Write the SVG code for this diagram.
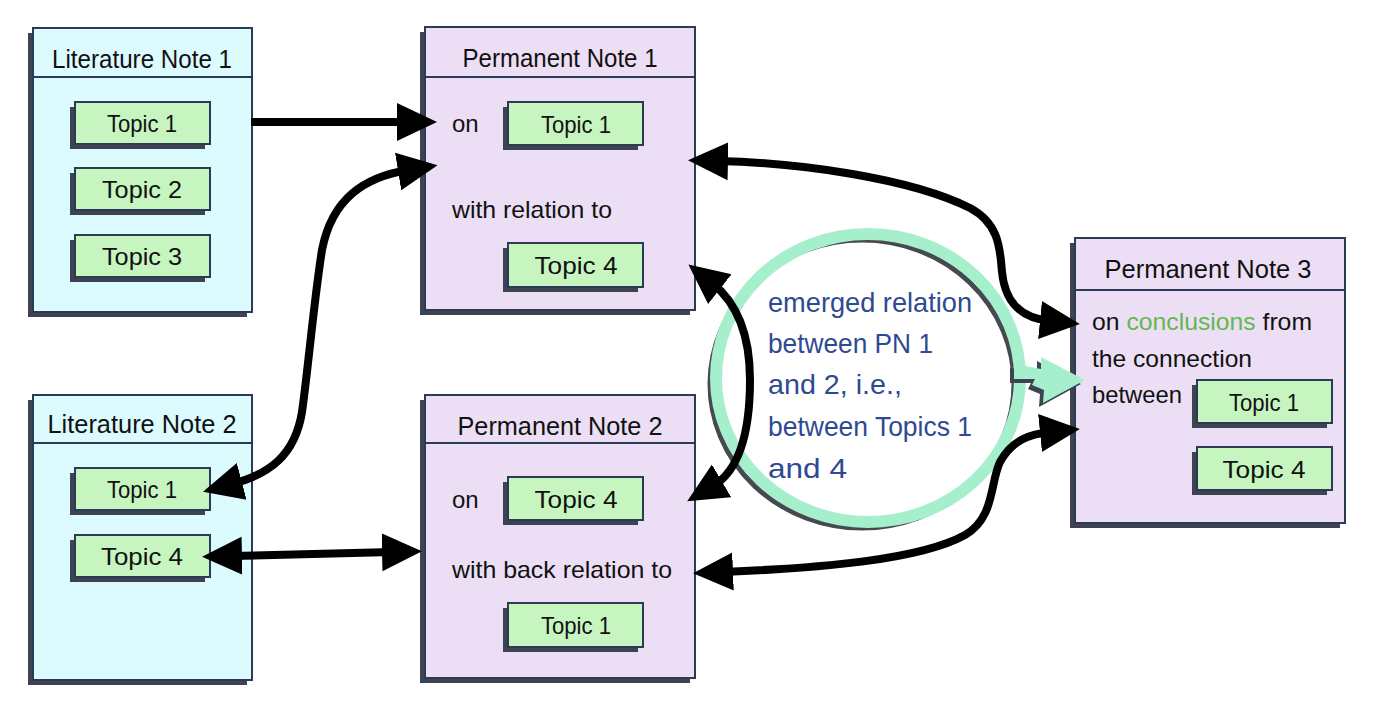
<svg xmlns="http://www.w3.org/2000/svg" width="1373" height="706" viewBox="0 0 1373 706">
<style>
text{font-family:"Liberation Sans","Noto Sans",Arial,sans-serif;fill:#111;}
.title{font-size:25px;text-anchor:middle;}
.body{font-size:24px;}
.topic{font-size:24px;text-anchor:middle;}
.circ{font-size:28px;fill:#2e4a92;}
.shadow{fill:#3d4350;}
.lit{fill:#dcfbfe;stroke:#2b3a55;stroke-width:2;}
.perm{fill:#ecdff5;stroke:#2b3a55;stroke-width:2;}
.tp{fill:#c6f5c0;stroke:#2b3a55;stroke-width:2;}
.div{stroke:#2b3a55;stroke-width:2;}
.conn{fill:none;stroke:#000;stroke-width:8;}
</style>
<defs>
<marker id="ah" viewBox="0 0 40 40" refX="10" refY="20" markerWidth="40" markerHeight="40" markerUnits="userSpaceOnUse" orient="auto-start-reverse">
<path d="M0,1 L40,20 L0,39 z" fill="#000"/>
</marker>
</defs>
<rect width="1373" height="706" fill="#fff"/>

<!-- Literature Note 1 -->
<g id="lit1">
<rect class="shadow" x="28" y="33" width="219" height="284"/>
<rect class="lit" x="33" y="28" width="219" height="284"/>
<line class="div" x1="33" y1="77" x2="252" y2="77"/>
<text class="title" x="142" y="68" textLength="180" lengthAdjust="spacingAndGlyphs">Literature Note 1</text>
<rect class="shadow" x="70" y="107" width="135" height="42"/>
<rect class="tp" x="75" y="102" width="135" height="42"/>
<text class="topic" x="142" y="132" textLength="70" lengthAdjust="spacingAndGlyphs">Topic 1</text>
<rect class="shadow" x="70" y="173" width="135" height="42"/>
<rect class="tp" x="75" y="168" width="135" height="42"/>
<text class="topic" x="142" y="198" textLength="80" lengthAdjust="spacingAndGlyphs">Topic 2</text>
<rect class="shadow" x="70" y="240" width="135" height="42"/>
<rect class="tp" x="75" y="235" width="135" height="42"/>
<text class="topic" x="142" y="265" textLength="80" lengthAdjust="spacingAndGlyphs">Topic 3</text>
</g>

<!-- Literature Note 2 -->
<g id="lit2">
<rect class="shadow" x="28" y="400" width="219" height="285"/>
<rect class="lit" x="33" y="395" width="219" height="285"/>
<line class="div" x1="33" y1="443" x2="252" y2="443"/>
<text class="title" x="142" y="433" textLength="189" lengthAdjust="spacingAndGlyphs">Literature Note 2</text>
<rect class="shadow" x="70" y="473" width="135" height="42"/>
<rect class="tp" x="75" y="468" width="135" height="42"/>
<text class="topic" x="142" y="498" textLength="70" lengthAdjust="spacingAndGlyphs">Topic 1</text>
<rect class="shadow" x="70" y="540" width="135" height="42"/>
<rect class="tp" x="75" y="535" width="135" height="42"/>
<text class="topic" x="142" y="565" textLength="82" lengthAdjust="spacingAndGlyphs">Topic 4</text>
</g>

<!-- Permanent Note 1 -->
<g id="perm1">
<rect class="shadow" x="420" y="32" width="270" height="283"/>
<rect class="perm" x="425" y="27" width="270" height="283"/>
<line class="div" x1="425" y1="77" x2="695" y2="77"/>
<text class="title" x="560" y="67" textLength="195" lengthAdjust="spacingAndGlyphs">Permanent Note 1</text>
<text class="body" x="452" y="132">on</text>
<rect class="shadow" x="503" y="107" width="135" height="43"/>
<rect class="tp" x="508" y="102" width="135" height="43"/>
<text class="topic" x="576" y="133" textLength="70" lengthAdjust="spacingAndGlyphs">Topic 1</text>
<text class="body" x="452" y="218" textLength="160" lengthAdjust="spacingAndGlyphs">with relation to</text>
<rect class="shadow" x="503" y="248" width="135" height="44"/>
<rect class="tp" x="508" y="243" width="135" height="44"/>
<text class="topic" x="576" y="274" textLength="83" lengthAdjust="spacingAndGlyphs">Topic 4</text>
</g>

<!-- Permanent Note 2 -->
<g id="perm2">
<rect class="shadow" x="420" y="400" width="270" height="283"/>
<rect class="perm" x="425" y="395" width="270" height="283"/>
<line class="div" x1="425" y1="443" x2="695" y2="443"/>
<text class="title" x="560" y="435" textLength="205" lengthAdjust="spacingAndGlyphs">Permanent Note 2</text>
<text class="body" x="452" y="508">on</text>
<rect class="shadow" x="503" y="482" width="135" height="43"/>
<rect class="tp" x="508" y="477" width="135" height="43"/>
<text class="topic" x="576" y="508" textLength="83" lengthAdjust="spacingAndGlyphs">Topic 4</text>
<text class="body" x="452" y="578" textLength="220" lengthAdjust="spacingAndGlyphs">with back relation to</text>
<rect class="shadow" x="503" y="608" width="135" height="44"/>
<rect class="tp" x="508" y="603" width="135" height="44"/>
<text class="topic" x="576" y="634" textLength="70" lengthAdjust="spacingAndGlyphs">Topic 1</text>
</g>

<!-- Permanent Note 3 -->
<g id="perm3">
<rect class="shadow" x="1070" y="243" width="270" height="285"/>
<rect class="perm" x="1075" y="238" width="270" height="285"/>
<line class="div" x1="1075" y1="290" x2="1345" y2="290"/>
<text class="title" x="1208" y="278" textLength="207" lengthAdjust="spacingAndGlyphs">Permanent Note 3</text>
<text class="body" x="1092" y="330" textLength="220" lengthAdjust="spacingAndGlyphs">on <tspan fill="#62b84e">conclusions</tspan> from</text>
<text class="body" x="1092" y="367" textLength="160" lengthAdjust="spacingAndGlyphs">the connection</text>
<text class="body" x="1092" y="403" textLength="90" lengthAdjust="spacingAndGlyphs">between</text>
<rect class="shadow" x="1192" y="385" width="135" height="43"/>
<rect class="tp" x="1197" y="380" width="135" height="43"/>
<text class="topic" x="1264" y="411" textLength="70" lengthAdjust="spacingAndGlyphs">Topic 1</text>
<rect class="shadow" x="1192" y="452" width="135" height="43"/>
<rect class="tp" x="1197" y="447" width="135" height="43"/>
<text class="topic" x="1264" y="478" textLength="83" lengthAdjust="spacingAndGlyphs">Topic 4</text>
</g>

<!-- Emerged relation circle -->
<g id="emerged">
<ellipse cx="862" cy="384" rx="152" ry="144" fill="none" stroke="#464a50" stroke-width="5"/>
<ellipse cx="868" cy="378" rx="152" ry="144" fill="none" stroke="#a6efcd" stroke-width="12"/>
<text class="circ" x="768" y="312" textLength="204" lengthAdjust="spacingAndGlyphs">emerged relation</text>
<text class="circ" x="768" y="353" textLength="165" lengthAdjust="spacingAndGlyphs">between PN 1</text>
<text class="circ" x="768" y="394" textLength="134" lengthAdjust="spacingAndGlyphs">and 2, i.e.,</text>
<text class="circ" x="768" y="436" textLength="204" lengthAdjust="spacingAndGlyphs">between Topics 1</text>
<text class="circ" x="768" y="478" textLength="79" lengthAdjust="spacingAndGlyphs">and 4</text>
<polygon points="1010,368 1037,373 1037,361 1081,384 1039,407 1040,394 1028,389 1031,383 1010,383" fill="#3d4350"/>
<polygon points="1014,364 1041,369 1041,357 1085,380 1043,403 1044,390 1032,385 1035,379 1014,379" fill="#a6efcd"/>
</g>

<!-- Connectors -->
<g id="connectors">
<path class="conn" d="M251,122 L407,122" marker-end="url(#ah)"/>
<path class="conn" d="M232,484 C270,474 295,455 302,412 C308,370 314,300 322,250 C332,198 365,177 408,170" marker-start="url(#ah)" marker-end="url(#ah)"/>
<path class="conn" d="M232,556 L392,552" marker-start="url(#ah)" marker-end="url(#ah)"/>
<path class="conn" d="M718,161 C800,163 910,178 970,208 C1000,224 1000,250 1002,272 C1005,302 1020,318 1050,321" marker-start="url(#ah)" marker-end="url(#ah)"/>
<path class="conn" d="M712,283 C740,305 750,340 750,380 C750,430 740,470 713,486" marker-start="url(#ah)" marker-end="url(#ah)"/>
<path class="conn" d="M723,572 C820,568 920,560 965,535 C995,518 990,482 1000,462 C1012,440 1030,434 1050,432" marker-start="url(#ah)" marker-end="url(#ah)"/>
</g>
</svg>
